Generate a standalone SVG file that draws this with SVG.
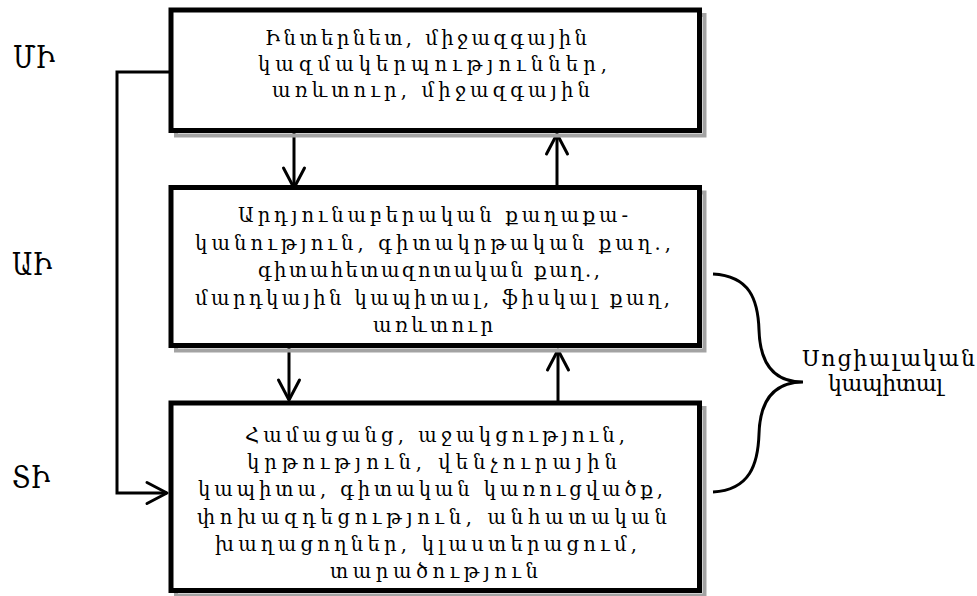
<svg xmlns="http://www.w3.org/2000/svg" width="977" height="596" viewBox="0 0 977 596">
<style>
.box{fill:#fff;stroke:#000;stroke-width:5}
.shadow{fill:none;stroke:#a3a3a3;stroke-width:4}
.t{font-family:"DejaVu Serif","DejaVu Sans","Noto Sans",serif;font-size:19.5px;fill:#000}
.lbl{font-family:"DejaVu Serif","DejaVu Sans","Noto Sans",serif;font-size:32px;fill:#000}
.side{font-family:"DejaVu Serif","DejaVu Sans","Noto Sans",serif;font-size:22px;fill:#000}
.c{fill:none;stroke:#000;stroke-width:3}
</style>
<defs>
<marker id="arr" markerUnits="userSpaceOnUse" markerWidth="26" markerHeight="26" viewBox="-23 -13 26 26" refX="0" refY="0" orient="auto">
<path d="M-20,-10.5 L0,0 L-20,10.5" fill="none" stroke="#000" stroke-width="3" stroke-linejoin="round" stroke-linecap="round"/>
</marker>
</defs>
<rect width="977" height="596" fill="#fff"/>

<g id="label-MI"><text class="lbl" x="13" y="68" textLength="42" lengthAdjust="spacingAndGlyphs">ՄԻ</text></g>
<g id="label-AI"><text class="lbl" x="12" y="275" textLength="40" lengthAdjust="spacingAndGlyphs">ԱԻ</text></g>
<g id="label-TI"><text class="lbl" x="12" y="488" textLength="38" lengthAdjust="spacingAndGlyphs">ՏԻ</text></g>

<g id="connectors">
<path class="c" d="M294,133 L294,188" marker-end="url(#arr)"/>
<path class="c" d="M557,185 L557,134" marker-end="url(#arr)"/>
<path class="c" d="M289,348 L289,400" marker-end="url(#arr)"/>
<path class="c" d="M558,403 L558,350" marker-end="url(#arr)"/>
<path class="c" d="M171,72 H117 V493 H167" marker-end="url(#arr)"/>
<path class="c" d="M713,274 C750,276 758,300 759,330 C760,365 775,382 803,382 C775,382 760,399 759,434 C758,464 750,490 713,492"/>
</g>

<g id="node-international">
<rect class="shadow" x="176" y="15" width="528.5" height="120.5"/>
<rect class="box" x="171" y="10" width="528.5" height="120.5"/>
<text class="t" x="265" y="45" textLength="322" lengthAdjust="spacing">Ինտերնետ, միջազգային</text>
<text class="t" x="258" y="71" textLength="349" lengthAdjust="spacing">կազմակերպություններ,</text>
<text class="t" x="272" y="97" textLength="318" lengthAdjust="spacing">առևտուր, միջազգային</text>
</g>

<g id="node-national">
<rect class="shadow" x="176" y="192.5" width="528.5" height="158"/>
<rect class="box" x="171" y="187.5" width="528.5" height="158"/>
<text class="t" x="238" y="222" textLength="390" lengthAdjust="spacing">Արդյունաբերական քաղաքա-</text>
<text class="t" x="195" y="249.5" textLength="476" lengthAdjust="spacing">կանություն, գիտակրթական քաղ.,</text>
<text class="t" x="258" y="277" textLength="342" lengthAdjust="spacing">գիտահետազոտական քաղ.,</text>
<text class="t" x="195" y="304.5" textLength="475" lengthAdjust="spacing">մարդկային կապիտալ, ֆիսկալ քաղ,</text>
<text class="t" x="373" y="332" textLength="120" lengthAdjust="spacing">առևտուր</text>
</g>

<g id="node-regional">
<rect class="shadow" x="176" y="408" width="528.5" height="187.5"/>
<rect class="box" x="171" y="403" width="528.5" height="187.5"/>
<text class="t" x="245" y="441.5" textLength="380" lengthAdjust="spacing">Համացանց, աջակցություն,</text>
<text class="t" x="247" y="469" textLength="370" lengthAdjust="spacing">կրթություն, վենչուրային</text>
<text class="t" x="198" y="496" textLength="465" lengthAdjust="spacing">կապիտա, գիտական կառուցվածք,</text>
<text class="t" x="197" y="523.5" textLength="470" lengthAdjust="spacing">փոխազդեցություն, անհատական</text>
<text class="t" x="215" y="551" textLength="422" lengthAdjust="spacing">խաղացողներ, կլաստերացում,</text>
<text class="t" x="330" y="578" textLength="208" lengthAdjust="spacing">տարածություն</text>
</g>

<g id="node-social-capital">
<text class="side" x="802" y="366" textLength="173" lengthAdjust="spacing">Սոցիալական</text>
<text class="side" x="828" y="391" textLength="115" lengthAdjust="spacing">կապիտալ</text>
</g>
</svg>
